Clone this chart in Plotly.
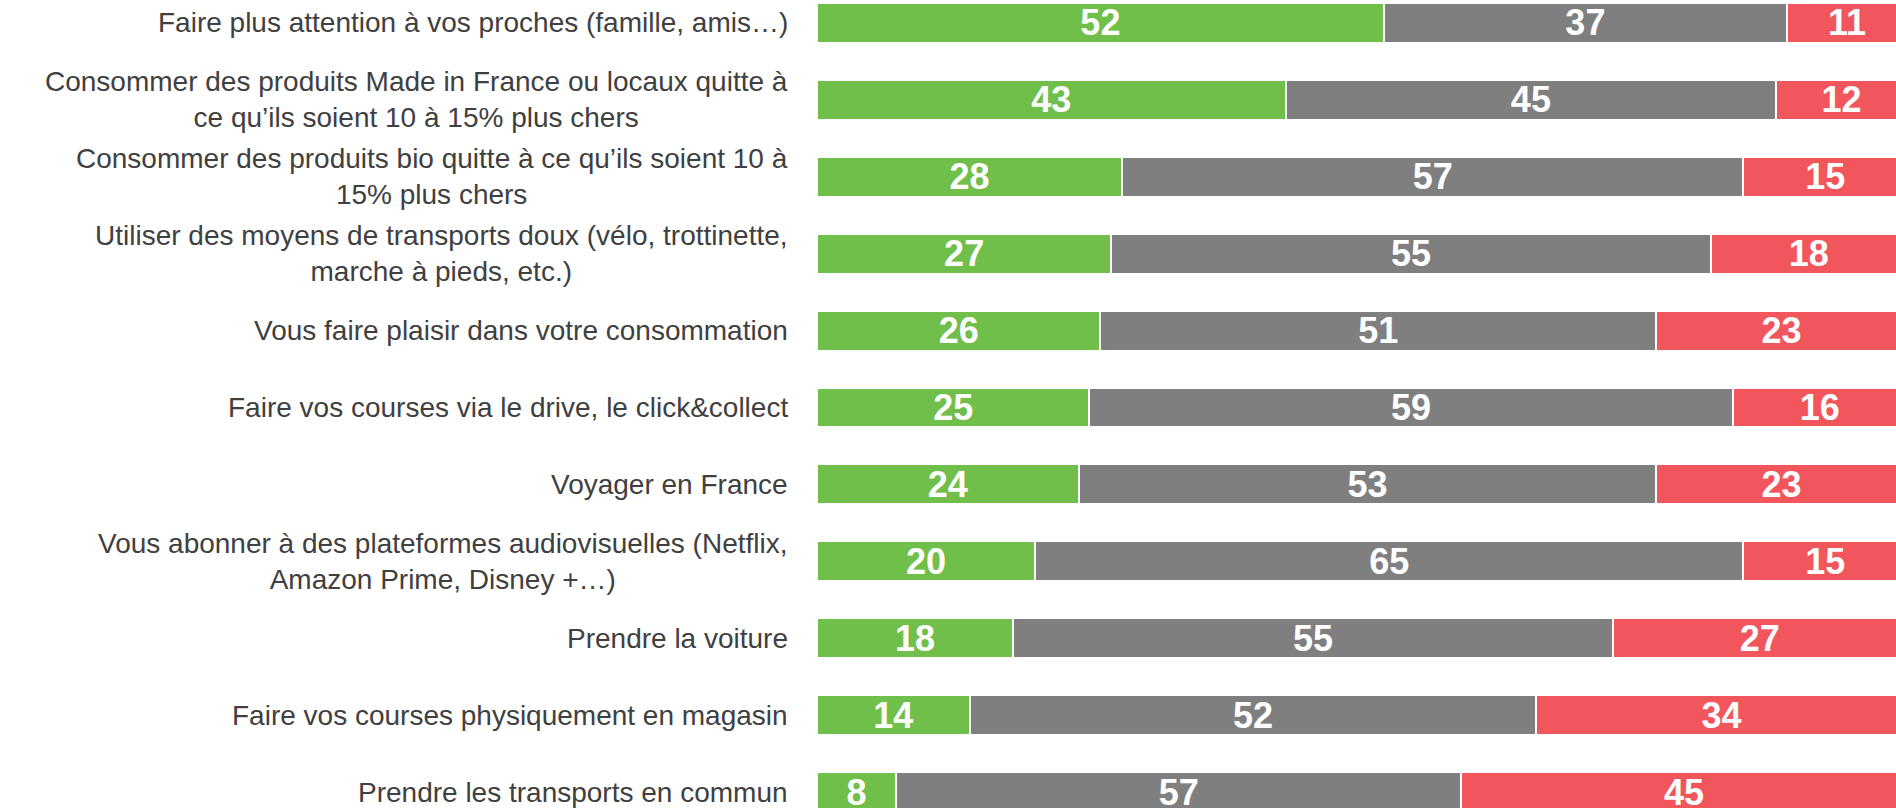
import plotly.graph_objects as go

categories = [
    "Faire plus attention à vos proches (famille, amis…)",
    "Consommer des produits Made in France ou locaux quitte à<br>ce qu’ils soient 10 à 15% plus chers",
    "Consommer des produits bio quitte à ce qu’ils soient 10 à<br>15% plus chers",
    "Utiliser des moyens de transports doux (vélo, trottinette,<br>marche à pieds, etc.)",
    "Vous faire plaisir dans votre consommation",
    "Faire vos courses via le drive, le click&collect",
    "Voyager en France",
    "Vous abonner à des plateformes audiovisuelles (Netflix,<br>Amazon Prime, Disney +…)",
    "Prendre la voiture",
    "Faire vos courses physiquement en magasin",
    "Prendre les transports en commun",
]
green_vals = [52, 43, 28, 27, 26, 25, 24, 20, 18, 14, 8]
gray_vals = [37, 45, 57, 55, 51, 59, 53, 65, 55, 52, 57]
red_vals = [11, 12, 15, 18, 23, 16, 23, 15, 27, 34, 45]

series = [
    ("green", green_vals, "#70BF4B"),
    ("gray", gray_vals, "#7F7F7F"),
    ("red", red_vals, "#F0565B"),
]

ids = list(range(len(categories)))

fig = go.Figure()
for name, vals, col in series:
    fig.add_trace(go.Bar(
        y=ids, x=vals, orientation="h", name=name,
        marker=dict(color=col, line=dict(color="white", width=2)),
        text=[str(v) for v in vals],
        texttemplate="%{text}",
        textposition="inside",
        insidetextanchor="middle",
        constraintext="none",
        textangle=0,
        textfont=dict(family="Liberation Sans, Arial", size=36, color="white", weight="bold"),
        hoverinfo="skip",
    ))

for i, lab in enumerate(categories):
    fig.add_annotation(
        x=0, xref="paper", y=i, yref="y",
        text=lab, showarrow=False, xanchor="right", yanchor="middle",
        align="center", xshift=-27,
        font=dict(family="Liberation Sans, Arial", size=28, color="#404040"),
    )

fig.update_layout(
    width=1896, height=808,
    margin=dict(l=817, r=0, t=0, b=0),
    barmode="stack", barnorm="percent", bargap=0.48,
    showlegend=False,
    plot_bgcolor="white", paper_bgcolor="white",
    xaxis=dict(range=[0, 99], visible=False, fixedrange=True),
    yaxis=dict(range=[10.208, -0.299], visible=False, fixedrange=True),
)

fig.write_html(
    "out.html",
    config={"displayModeBar": False},
    post_script="document.body.style.margin='0';document.body.style.overflow='hidden';",
)
